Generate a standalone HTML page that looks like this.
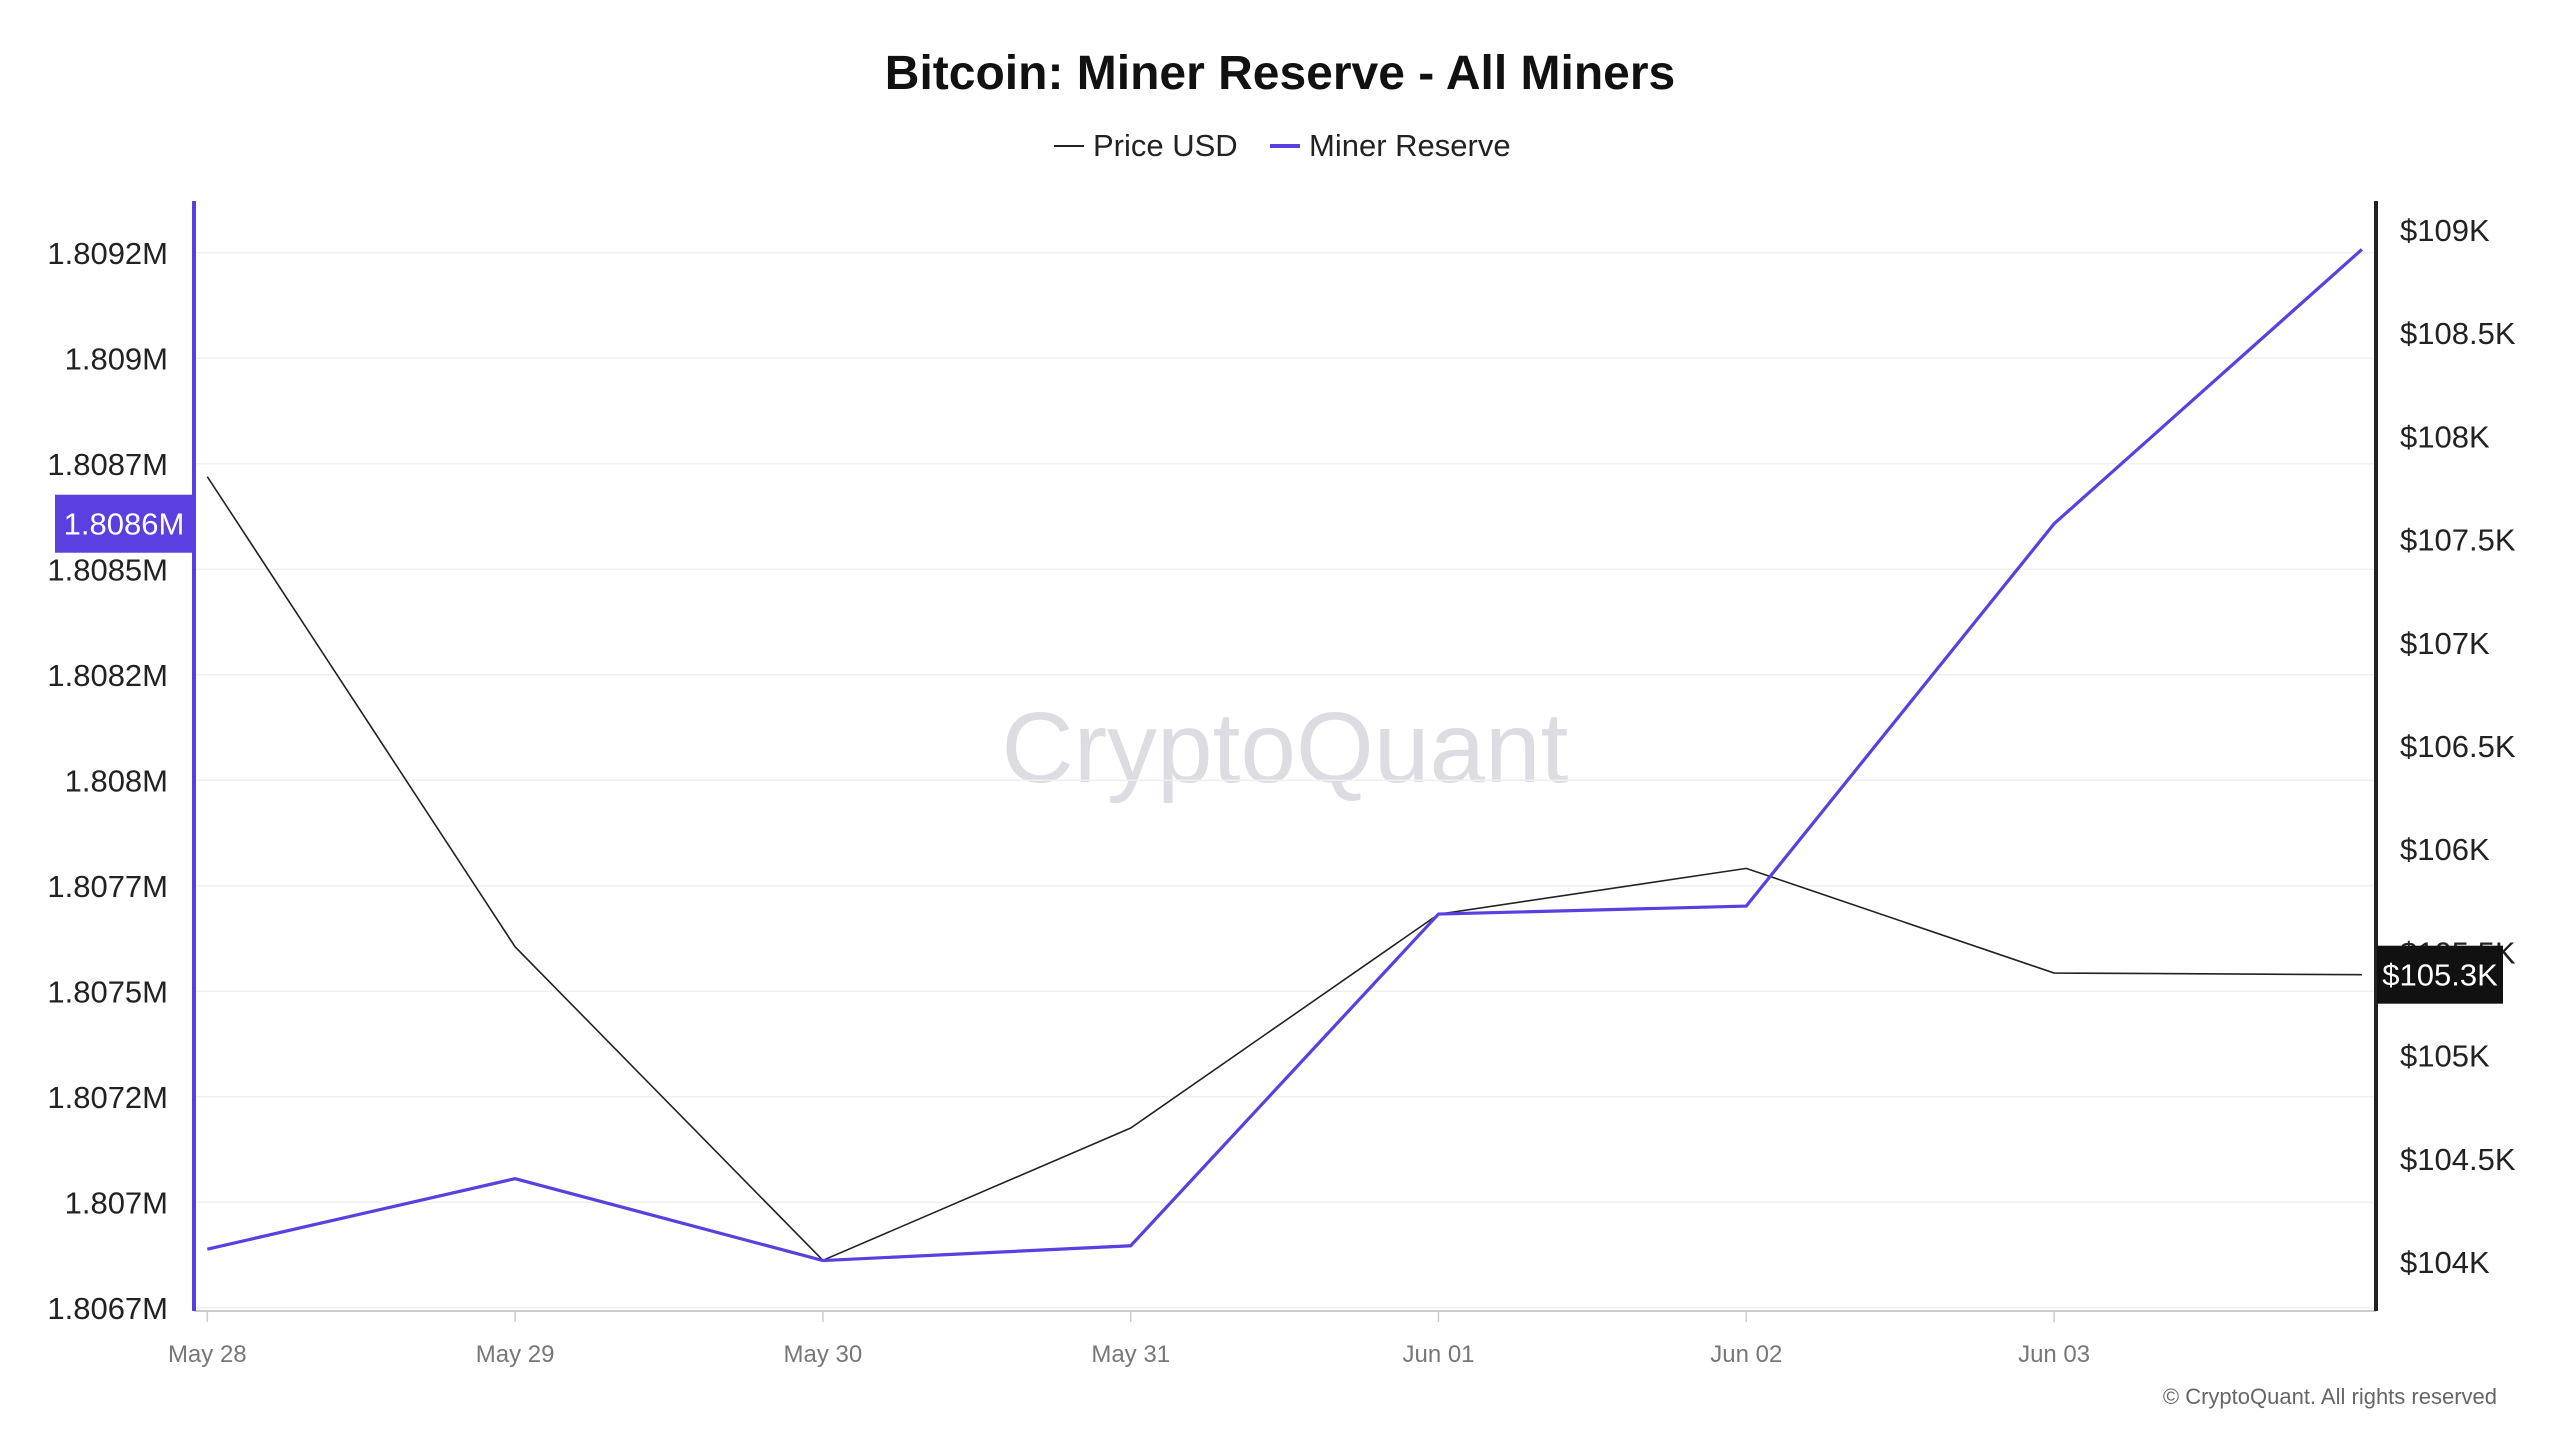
<!DOCTYPE html>
<html><head><meta charset="utf-8">
<style>
html,body{margin:0;padding:0;background:#fff;}
body{width:2560px;height:1440px;overflow:hidden;font-family:"Liberation Sans",sans-serif;}
</style></head>
<body>
<svg id="chart" width="2560" height="1440" xmlns="http://www.w3.org/2000/svg" font-family="Liberation Sans, sans-serif">
  <text x="1280" y="89" text-anchor="middle" font-size="48" font-weight="bold" fill="#111">Bitcoin: Miner Reserve - All Miners</text>
  <g>
    <line x1="1054" y1="146" x2="1084" y2="146" stroke="#222" stroke-width="2"/>
    <text x="1093" y="156" font-size="31" fill="#222">Price USD</text>
    <line x1="1270" y1="146" x2="1300" y2="146" stroke="#5b3fe0" stroke-width="4"/>
    <text x="1309" y="156" font-size="31" fill="#222">Miner Reserve</text>
  </g>
  <text x="1285" y="782" text-anchor="middle" font-size="100" fill="#dcdce2">CryptoQuant</text>
  <g id="grid"></g>
  <g id="axes"></g>
  <g id="series"></g>
  <g id="labels"></g>
  <text x="2497" y="1404" text-anchor="end" font-size="22" fill="#666">© CryptoQuant. All rights reserved</text>
</svg>
<script>
const categories = ["May 28","May 29","May 30","May 31","Jun 01","Jun 02","Jun 03","Jun 04"];
const xTickLabels = ["May 28","May 29","May 30","May 31","Jun 01","Jun 02","Jun 03"];
const reserveValues = [1806839,1807006,1806812,1806847,1807633,1807652,1808558,1809208];
const priceValues = [107805,105527,104008,104649,105685,105907,105400,105392];
const leftTicks = [1806700,1806950,1807200,1807450,1807700,1807950,1808200,1808450,1808700,1808950,1809200];
const leftTickLabels = ["1.8067M","1.807M","1.8072M","1.8075M","1.8077M","1.808M","1.8082M","1.8085M","1.8087M","1.809M","1.8092M"];
const rightTicks = [104000,104500,105000,105500,106000,106500,107000,107500,108000,108500,109000];
const rightTickLabels = ["$104K","$104.5K","$105K","$105.5K","$106K","$106.5K","$107K","$107.5K","$108K","$108.5K","$109K"];

const NS="http://www.w3.org/2000/svg";
function xPos(i){return 207.3 + i*307.8;}
function yLeft(v){return 1307.8 - (v-1806700)/250*105.5;}
function yRight(v){return 1262 - (v-104000)/500*103.2;}
function mk(tag,attrs,parent){const e=document.createElementNS(NS,tag);for(const k in attrs)e.setAttribute(k,attrs[k]);parent.appendChild(e);return e;}
const grid=document.getElementById('grid'),axes=document.getElementById('axes'),series=document.getElementById('series'),labels=document.getElementById('labels');

leftTicks.forEach((t,i)=>{
  const y=yLeft(t);
  const g=mk('line',{x1:196,x2:2374,y1:y,y2:y,stroke:'#f0f0f0','stroke-width':1.5},grid);
  
  
  const tx=mk('text',{x:168,y:y+11,'text-anchor':'end','font-size':31,fill:'#222'},labels);
  tx.textContent=leftTickLabels[i];
  
  
});
rightTicks.forEach((t,i)=>{
  const y=yRight(t);
  const tx=mk('text',{x:2400,y:y+11,'font-size':31,fill:'#222'},labels);
  tx.textContent=rightTickLabels[i];
  
  
});
xTickLabels.forEach((l,i)=>{
  const x=xPos(i);
  const tk=mk('line',{x1:x,x2:x,y1:1311,y2:1322,stroke:'#ccc','stroke-width':1.5},axes);
  
  
  const tx=mk('text',{x:x,y:1362,'text-anchor':'middle','font-size':24,fill:'#777'},labels);
  tx.textContent=l;
  
  
});
const xa=mk('line',{x1:194,x2:2376,y1:1311,y2:1311,stroke:'#ccc','stroke-width':2},axes);


const la=mk('line',{x1:194,x2:194,y1:201,y2:1311,stroke:'#5b3fe0','stroke-width':4},axes);


const ra=mk('line',{x1:2376,x2:2376,y1:201,y2:1311,stroke:'#222','stroke-width':4},axes);



const pp=mk('polyline',{points:priceValues.map((v,i)=>xPos(i)+','+yRight(v)).join(' '),fill:'none',stroke:'#222','stroke-width':1.6},series);


const rp=mk('polyline',{points:reserveValues.map((v,i)=>xPos(i)+','+yLeft(v)).join(' '),fill:'none',stroke:'#5b3fe0','stroke-width':3.2},series);



// current value badges
const ry=yLeft(reserveValues[6]);
const lb=mk('rect',{x:55,y:ry-29,width:138,height:58,fill:'#5b3fe0'},labels);


const lt=mk('text',{x:124,y:ry+11,'text-anchor':'middle','font-size':31,fill:'#fff'},labels);
lt.textContent='1.8086M';


const py=yRight(priceValues[7]);
const rb=mk('rect',{x:2377,y:py-29,width:126,height:58,fill:'#111'},labels);


const rt=mk('text',{x:2440,y:py+11,'text-anchor':'middle','font-size':31,fill:'#fff'},labels);
rt.textContent='$105.3K';


</script>
</body></html>
